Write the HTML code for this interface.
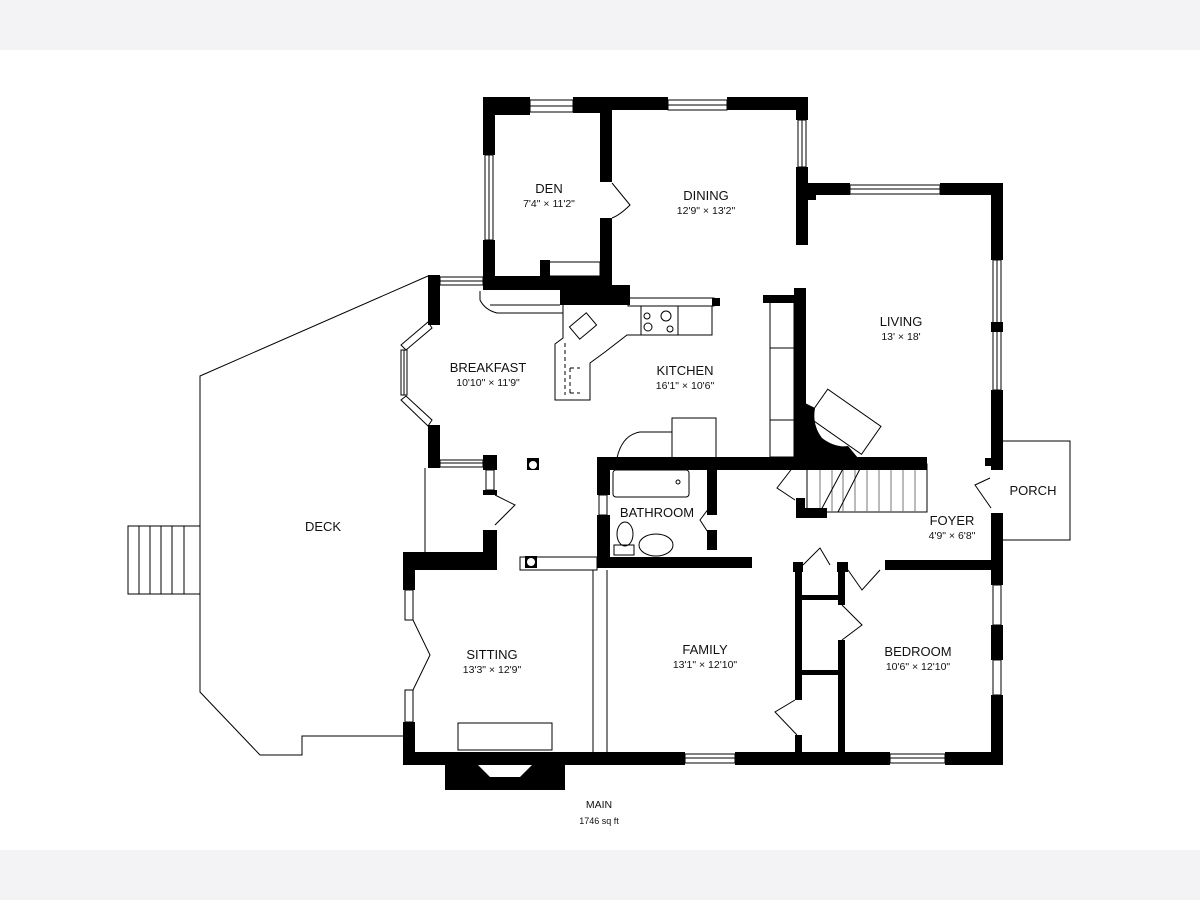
<!DOCTYPE html>
<html><head><meta charset="utf-8"><style>
html,body{margin:0;padding:0;background:#fff}
body{width:1200px;height:900px;overflow:hidden;position:relative}
.band{position:absolute;left:0;width:1200px;height:50px;background:#f3f3f5}
svg{position:absolute;left:0;top:0}
text{font-family:"Liberation Sans",sans-serif;fill:#111;text-anchor:middle}
.n{font-size:13px}.d{font-size:10.5px}
</style></head><body>
<div class="band" style="top:0"></div>
<div class="band" style="top:850px"></div>
<svg width="1200" height="900" viewBox="0 0 1200 900">
<g fill="none" stroke="#000" stroke-width="1">
<polyline points="428,276 200,376 200,692 260,755 302,755 302,736 403,736"/>
<line x1="425" y1="468" x2="425" y2="552"/>
<rect x="128" y="526" width="72" height="68"/>
<line x1="139" y1="526" x2="139" y2="594"/><line x1="150" y1="526" x2="150" y2="594"/><line x1="161" y1="526" x2="161" y2="594"/><line x1="172" y1="526" x2="172" y2="594"/><line x1="184" y1="526" x2="184" y2="594"/>
<polyline points="1003,441 1070,441 1070,540 1003,540"/>
<g stroke-width="1">
<rect x="530" y="100" width="43" height="12"/><line x1="530" y1="106" x2="573" y2="106"/>
<rect x="668" y="100" width="59" height="10"/><line x1="668" y1="105" x2="727" y2="105"/>
<rect x="798" y="120" width="8" height="47"/><line x1="802" y1="120" x2="802" y2="167"/>
<rect x="850" y="185" width="90" height="9"/><line x1="850" y1="189" x2="940" y2="189"/>
<rect x="993" y="260" width="8" height="130"/><line x1="997" y1="260" x2="997" y2="390"/>
<rect x="485" y="155" width="8" height="85"/><line x1="489" y1="155" x2="489" y2="240"/>
<rect x="440" y="277" width="43" height="8"/><line x1="440" y1="281" x2="483" y2="281"/>
<rect x="440" y="460" width="43" height="7"/><line x1="440" y1="463" x2="483" y2="463"/>
<rect x="401" y="350" width="6" height="45"/><line x1="404" y1="350" x2="404" y2="395"/>
<polygon points="428,322 432,328 406,350 401,345"/><polygon points="401,400 406,396 432,420 428,426"/>
<rect x="486" y="470" width="8" height="20"/>
<rect x="405" y="590" width="8" height="30"/><rect x="405" y="690" width="8" height="32"/>
<rect x="685" y="754" width="50" height="9"/><line x1="685" y1="758" x2="735" y2="758"/>
<rect x="890" y="754" width="55" height="9"/><line x1="890" y1="758" x2="945" y2="758"/>
<rect x="993" y="585" width="8" height="40"/><rect x="993" y="660" width="8" height="35"/>
<rect x="599" y="495" width="8" height="20"/>
</g>
<rect x="547" y="262" width="53" height="14"/>
<path d="M480,291 L480,300 Q485,310 497,313 L563,313"/>
<line x1="490" y1="305" x2="560" y2="305"/>
<rect x="628" y="298" width="86" height="8"/>
<path d="M563,305 L563,338 L555,344 L555,400 L590,400 L590,363 L605,352 L627,335 L712,335 L712,306"/>
<rect x="641" y="306" width="37" height="29"/>
<circle cx="647" cy="316" r="3"/><circle cx="648" cy="327" r="4"/><circle cx="666" cy="316" r="5"/><circle cx="670" cy="329" r="3"/>
<rect x="572" y="318" width="22" height="16" transform="rotate(-40 583 326)"/>
<path d="M565,343 L565,395 M570,368 L580,368 M570,393 L580,393 M570,368 L570,393" stroke-dasharray="4,3"/>
<path d="M617,458 Q622,435 640,432 L672,432 L672,458"/><rect x="672" y="418" width="44" height="40"/>
<rect x="770" y="302" width="24" height="155"/><line x1="770" y1="348" x2="794" y2="348"/><line x1="770" y1="420" x2="794" y2="420"/>
<rect x="613" y="470" width="76" height="27" rx="3"/><circle cx="678" cy="482" r="2"/>
<ellipse cx="625" cy="534" rx="8" ry="12"/><rect x="614" y="545" width="20" height="10"/>
<ellipse cx="656" cy="545" rx="17" ry="11"/>
<line x1="593" y1="570" x2="593" y2="752"/><line x1="607" y1="570" x2="607" y2="752"/>
<rect x="520" y="557" width="77" height="13"/>
<rect x="807" y="464" width="120" height="48"/>
<g stroke="#777"><line x1="820" y1="464" x2="820" y2="512"/><line x1="832" y1="464" x2="832" y2="512"/><line x1="843" y1="464" x2="843" y2="512"/><line x1="855" y1="464" x2="855" y2="512"/><line x1="867" y1="464" x2="867" y2="512"/><line x1="879" y1="464" x2="879" y2="512"/><line x1="891" y1="464" x2="891" y2="512"/><line x1="903" y1="464" x2="903" y2="512"/><line x1="915" y1="464" x2="915" y2="512"/></g>
<line x1="820" y1="512" x2="845" y2="465"/><line x1="838" y1="512" x2="862" y2="465"/>
<rect x="812" y="405" width="65" height="34" transform="rotate(35 845 422)"/>
<rect x="458" y="723" width="94" height="27"/>
<path d="M612,183 L630,205 Q620,215 612,218"/>
<path d="M495,495 L515,505 L495,525"/><path d="M715,500 L700,520 L715,543"/>
<path d="M797,462 L777,488 L795,500"/><path d="M990,478 L975,485 L991,508"/>
<path d="M803,565 L820,548 L830,565"/><path d="M848,570 L862,590 L880,570"/>
<path d="M842,605 L862,625 L842,640"/><path d="M795,700 L775,712 L797,735"/>
<path d="M413,620 L430,655 L413,690"/>
</g>
<g fill="#000">
<rect x="483" y="97" width="47" height="18"/><rect x="573" y="97" width="39" height="16"/>
<rect x="483" y="97" width="12" height="58"/><rect x="483" y="240" width="12" height="50"/>
<rect x="600" y="97" width="12" height="85"/><rect x="600" y="218" width="12" height="80"/>
<rect x="483" y="276" width="120" height="14"/><rect x="540" y="260" width="10" height="16"/>
<rect x="560" y="285" width="70" height="20"/><rect x="610" y="295" width="20" height="10"/>
<rect x="712" y="298" width="8" height="8"/>
<rect x="612" y="97" width="56" height="13"/><rect x="727" y="97" width="81" height="13"/>
<rect x="796" y="97" width="12" height="23"/><rect x="796" y="167" width="12" height="78"/><rect x="806" y="190" width="10" height="10"/>
<rect x="808" y="183" width="42" height="12"/><rect x="940" y="183" width="63" height="12"/>
<rect x="991" y="183" width="12" height="77"/><rect x="991" y="322" width="12" height="10"/>
<rect x="991" y="390" width="12" height="80"/><rect x="985" y="458" width="8" height="8"/>
<rect x="991" y="513" width="12" height="72"/>
<rect x="763" y="295" width="42" height="8"/><rect x="794" y="288" width="12" height="175"/>
<path d="M805,403 L815,408 Q812,425 822,438 Q835,448 848,446 L858,458 L805,458 Z"/>
<rect x="597" y="457" width="330" height="13"/>
<rect x="597" y="457" width="13" height="38"/><rect x="597" y="515" width="13" height="53"/>
<rect x="707" y="465" width="10" height="50"/><rect x="707" y="530" width="10" height="20"/>
<rect x="597" y="557" width="155" height="11"/>
<rect x="796" y="498" width="9" height="20"/><rect x="796" y="508" width="31" height="10"/>
<rect x="428" y="275" width="12" height="50"/><rect x="428" y="425" width="12" height="43"/>
<rect x="483" y="455" width="14" height="15"/><rect x="483" y="490" width="14" height="5"/><rect x="483" y="530" width="14" height="22"/>
<rect x="403" y="552" width="94" height="18"/>
<rect x="527" y="458" width="12" height="12"/><rect x="525" y="556" width="12" height="12"/>
<rect x="403" y="552" width="12" height="38"/><rect x="403" y="722" width="12" height="43"/>
<rect x="403" y="752" width="282" height="13"/>
<path d="M445,752 L565,752 L565,790 L445,790 Z M478,752 L478,765 L490,777 L520,777 L532,765 L532,752 Z" fill-rule="evenodd"/>
<rect x="735" y="752" width="155" height="13"/><rect x="945" y="752" width="58" height="13"/>
<rect x="991" y="625" width="12" height="35"/><rect x="991" y="695" width="12" height="70"/>
<rect x="885" y="560" width="118" height="10"/>
<rect x="793" y="562" width="10" height="10"/><rect x="837" y="562" width="11" height="10"/>
<rect x="795" y="570" width="7" height="130"/><rect x="795" y="735" width="7" height="20"/>
<rect x="838" y="570" width="7" height="35"/><rect x="838" y="640" width="7" height="115"/>
<rect x="802" y="595" width="36" height="5"/><rect x="802" y="670" width="36" height="5"/>
</g>
<g fill="#fff"><circle cx="533" cy="465" r="4"/><circle cx="531" cy="562" r="4"/></g>
<text class="n" x="549" y="193">DEN</text><text class="d" x="549" y="207">7'4" × 11'2"</text>
<text class="n" x="706" y="200">DINING</text><text class="d" x="706" y="214">12'9" × 13'2"</text>
<text class="n" x="901" y="326">LIVING</text><text class="d" x="901" y="340">13' × 18'</text>
<text class="n" x="488" y="372">BREAKFAST</text><text class="d" x="488" y="386">10'10" × 11'9"</text>
<text class="n" x="685" y="375">KITCHEN</text><text class="d" x="685" y="389">16'1" × 10'6"</text>
<text class="n" x="323" y="531">DECK</text>
<text class="n" x="657" y="517">BATHROOM</text>
<text class="n" x="1033" y="495">PORCH</text>
<text class="n" x="952" y="525">FOYER</text><text class="d" x="952" y="539">4'9" × 6'8"</text>
<text class="n" x="492" y="659">SITTING</text><text class="d" x="492" y="673">13'3" × 12'9"</text>
<text class="n" x="705" y="654">FAMILY</text><text class="d" x="705" y="668">13'1" × 12'10"</text>
<text class="n" x="918" y="656">BEDROOM</text><text class="d" x="918" y="670">10'6" × 12'10"</text>
<text class="d" x="599" y="808">MAIN</text><text style="font-size:9px" x="599" y="824">1746 sq ft</text>
</svg>
</body></html>
